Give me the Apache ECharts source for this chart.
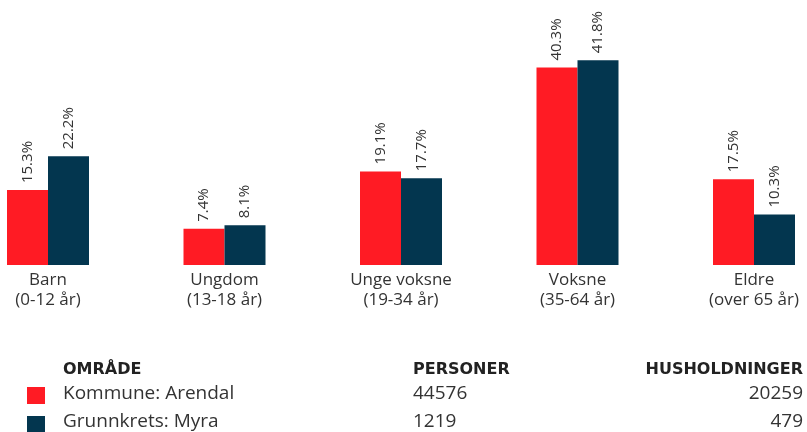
<!DOCTYPE html>
<html lang="no">
<head>
<meta charset="UTF-8">
<script src="https://cdn.jsdelivr.net/npm/echarts@6/dist/echarts.min.js"></script>
<title>Aldersfordeling</title>
<style>
  body { margin: 0; background: #fff; }
  #chart { width: 807px; height: 432px; }
</style>
</head>
<body>
<div id="chart"></div>
<script>
  // aldersgrupper
  var categories = ['Barn\n(0-12 år)', 'Ungdom\n(13-18 år)', 'Unge voksne\n(19-34 år)', 'Voksne\n(35-64 år)', 'Eldre\n(over 65 år)'];
  var kommune = [15.3, 7.4, 19.1, 40.3, 17.5];
  var grunnkrets = [22.2, 8.1, 17.7, 41.8, 10.3];
  var areaNames = ['Kommune: Arendal', 'Grunnkrets: Myra'];
  var personer = [44576, 1219];
  var husholdninger = [20259, 479];

  var RED = '#ff1b24';
  var NAVY = '#03364f';
  var FONT = '"Open Sans", sans-serif';

  var myChart = echarts.init(document.getElementById('chart'));

  var barLabel = {
    show: true,
    position: 'top',
    rotate: 90,
    align: 'left',
    verticalAlign: 'middle',
    distance: 7,
    color: '#333',
    fontSize: 15,
    fontFamily: FONT,
    formatter: function (p) { return p.value.toFixed(1) + '%'; }
  };

  // tabell under grafen
  var headY = 370, rowY = [394, 422];
  var boldFont = 'bold 16px "DejaVu Sans", sans-serif', rowFont = '19px ' + FONT;
  function txt(x, y, s, font, align) {
    return { type: 'text', x: x, y: y, style: { text: s, font: font, fill: '#333', align: align || 'left', verticalAlign: 'middle' } };
  }
  var graphics = [
    txt(63, headY, 'OMRÅDE', boldFont),
    txt(413, headY, 'PERSONER', boldFont),
    txt(803, headY, 'HUSHOLDNINGER', boldFont, 'right')
  ];
  graphics.forEach(function (g) { g.style.fill = '#222'; });
  areaNames.forEach(function (name, i) {
    graphics.push({ type: 'rect', x: 27, y: rowY[i] - 7 + i, shape: { width: 18, height: 17 }, style: { fill: i === 0 ? RED : NAVY } });
    graphics.push(txt(63, rowY[i], name, rowFont));
    graphics.push(txt(413, rowY[i], String(personer[i]), rowFont));
    graphics.push(txt(803, rowY[i], String(husholdninger[i]), rowFont, 'right'));
  });

  var option = {
    animation: false,
    color: [RED, NAVY],
    grid: { left: 48, right: 53, top: 20, bottom: 167 },
    xAxis: {
      type: 'category',
      data: categories,
      boundaryGap: false,
      axisLine: { show: false },
      axisTick: { show: false },
      axisLabel: { color: '#333', fontSize: 17, lineHeight: 20, margin: 5, fontFamily: FONT, interval: 0 }
    },
    yAxis: {
      type: 'value',
      min: 0,
      max: 50,
      show: false
    },
    series: [
      { name: areaNames[0], type: 'bar', data: kommune, barWidth: 41, barGap: '0%', label: barLabel },
      { name: areaNames[1], type: 'bar', data: grunnkrets, barWidth: 41, barGap: '0%', label: barLabel }
    ],
    graphic: graphics
  };

  myChart.setOption(option);
</script>
</body>
</html>
